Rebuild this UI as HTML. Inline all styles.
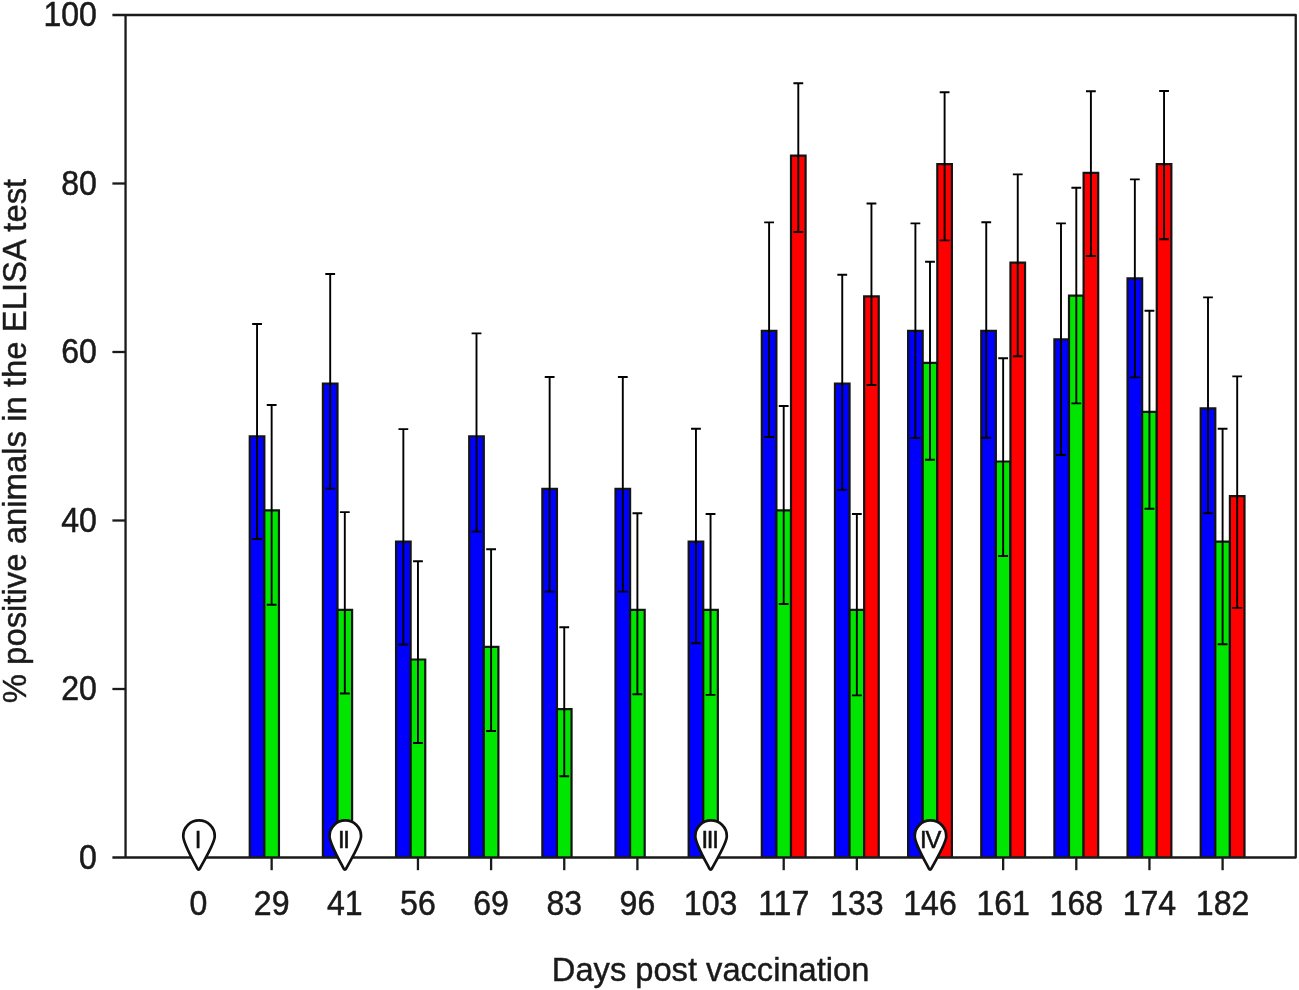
<!DOCTYPE html>
<html><head><meta charset="utf-8"><title>ELISA chart</title>
<style>
html,body{margin:0;padding:0;background:#fff;}
svg{display:block;}
text{font-family:"Liberation Sans",Arial,Helvetica,sans-serif;fill:#1a1a1a;}
.ax{stroke:#1a1a1a;stroke-width:2.3;fill:none;stroke-linecap:butt;}
.bar{stroke:#141414;stroke-width:2.2;}
.err{stroke:#000;stroke-width:1.9;fill:none;}
.pin{stroke:#111;stroke-width:2.7;fill:#fff;stroke-linejoin:round;}
.tl{font-size:34.2px;stroke:#1a1a1a;stroke-width:0.5px;}
.tt{font-size:34.6px;stroke:#1a1a1a;stroke-width:0.45px;}
.rn{font-size:23.8px;letter-spacing:-1.2px;fill:#111;stroke:#111;stroke-width:0.55px;}
</style></head><body>
<svg width="1299" height="990" viewBox="0 0 1299 990">
<rect x="0" y="0" width="1299" height="990" fill="#fff"/>
<path class="bar" d="M249.75 857.5V436.25h14.6V857.5" fill="#0000ff"/>
<path class="bar" d="M264.35 857.5V510.39h14.6V857.5" fill="#00e600"/>
<path class="err" d="M257.05 324.00V539.00M252.15 324.00h9.8M252.15 539.00h9.8"/>
<path class="err" d="M271.65 405.00V604.80M266.75 405.00h9.8M266.75 604.80h9.8"/>
<path class="bar" d="M322.90 857.5V383.59h14.6V857.5" fill="#0000ff"/>
<path class="bar" d="M337.50 857.5V609.80h14.6V857.5" fill="#00e600"/>
<path class="err" d="M330.20 274.00V488.60M325.30 274.00h9.8M325.30 488.60h9.8"/>
<path class="err" d="M344.80 512.10V693.50M339.90 512.10h9.8M339.90 693.50h9.8"/>
<path class="bar" d="M396.05 857.5V541.56h14.6V857.5" fill="#0000ff"/>
<path class="bar" d="M410.65 857.5V659.51h14.6V857.5" fill="#00e600"/>
<path class="err" d="M403.35 429.10V644.50M398.45 429.10h9.8M398.45 644.50h9.8"/>
<path class="err" d="M417.95 561.30V743.00M413.05 561.30h9.8M413.05 743.00h9.8"/>
<path class="bar" d="M469.20 857.5V436.25h14.6V857.5" fill="#0000ff"/>
<path class="bar" d="M483.80 857.5V646.88h14.6V857.5" fill="#00e600"/>
<path class="err" d="M476.50 333.40V531.60M471.60 333.40h9.8M471.60 531.60h9.8"/>
<path class="err" d="M491.10 549.20V731.00M486.20 549.20h9.8M486.20 731.00h9.8"/>
<path class="bar" d="M542.35 857.5V488.91h14.6V857.5" fill="#0000ff"/>
<path class="bar" d="M556.95 857.5V709.22h14.6V857.5" fill="#00e600"/>
<path class="err" d="M549.65 377.00V591.60M544.75 377.00h9.8M544.75 591.60h9.8"/>
<path class="err" d="M564.25 627.20V776.20M559.35 627.20h9.8M559.35 776.20h9.8"/>
<path class="bar" d="M615.50 857.5V488.91h14.6V857.5" fill="#0000ff"/>
<path class="bar" d="M630.10 857.5V609.80h14.6V857.5" fill="#00e600"/>
<path class="err" d="M622.80 377.00V591.60M617.90 377.00h9.8M617.90 591.60h9.8"/>
<path class="err" d="M637.40 513.30V694.20M632.50 513.30h9.8M632.50 694.20h9.8"/>
<path class="bar" d="M688.65 857.5V541.56h14.6V857.5" fill="#0000ff"/>
<path class="bar" d="M703.25 857.5V609.80h14.6V857.5" fill="#00e600"/>
<path class="err" d="M695.95 428.70V643.20M691.05 428.70h9.8M691.05 643.20h9.8"/>
<path class="err" d="M710.55 514.00V694.90M705.65 514.00h9.8M705.65 694.90h9.8"/>
<path class="bar" d="M761.80 857.5V330.94h14.6V857.5" fill="#0000ff"/>
<path class="bar" d="M776.40 857.5V510.39h14.6V857.5" fill="#00e600"/>
<path class="bar" d="M791.00 857.5V155.70h14.6V857.5" fill="#ff0000"/>
<path class="err" d="M769.10 222.40V437.00M764.20 222.40h9.8M764.20 437.00h9.8"/>
<path class="err" d="M783.70 406.00V604.00M778.80 406.00h9.8M778.80 604.00h9.8"/>
<path class="err" d="M798.30 83.20V232.00M793.40 83.20h9.8M793.40 232.00h9.8"/>
<path class="bar" d="M834.95 857.5V383.59h14.6V857.5" fill="#0000ff"/>
<path class="bar" d="M849.55 857.5V609.80h14.6V857.5" fill="#00e600"/>
<path class="bar" d="M864.15 857.5V296.39h14.6V857.5" fill="#ff0000"/>
<path class="err" d="M842.25 274.70V489.90M837.35 274.70h9.8M837.35 489.90h9.8"/>
<path class="err" d="M856.85 514.00V695.40M851.95 514.00h9.8M851.95 695.40h9.8"/>
<path class="err" d="M871.45 203.50V385.00M866.55 203.50h9.8M866.55 385.00h9.8"/>
<path class="bar" d="M908.10 857.5V330.94h14.6V857.5" fill="#0000ff"/>
<path class="bar" d="M922.70 857.5V362.95h14.6V857.5" fill="#00e600"/>
<path class="bar" d="M937.30 857.5V164.12h14.6V857.5" fill="#ff0000"/>
<path class="err" d="M915.40 223.40V438.00M910.50 223.40h9.8M910.50 438.00h9.8"/>
<path class="err" d="M930.00 261.80V459.80M925.10 261.80h9.8M925.10 459.80h9.8"/>
<path class="err" d="M944.60 92.20V240.40M939.70 92.20h9.8M939.70 240.40h9.8"/>
<path class="bar" d="M981.25 857.5V330.94h14.6V857.5" fill="#0000ff"/>
<path class="bar" d="M995.85 857.5V461.52h14.6V857.5" fill="#00e600"/>
<path class="bar" d="M1010.45 857.5V262.70h14.6V857.5" fill="#ff0000"/>
<path class="err" d="M986.25 222.20V437.80M981.35 222.20h9.8M981.35 437.80h9.8"/>
<path class="err" d="M1003.15 358.20V556.00M998.25 358.20h9.8M998.25 556.00h9.8"/>
<path class="err" d="M1017.75 174.40V356.20M1012.85 174.40h9.8M1012.85 356.20h9.8"/>
<path class="bar" d="M1054.40 857.5V339.36h14.6V857.5" fill="#0000ff"/>
<path class="bar" d="M1069.00 857.5V295.55h14.6V857.5" fill="#00e600"/>
<path class="bar" d="M1083.60 857.5V172.97h14.6V857.5" fill="#ff0000"/>
<path class="err" d="M1061.00 223.40V455.00M1056.10 223.40h9.8M1056.10 455.00h9.8"/>
<path class="err" d="M1076.30 187.70V403.40M1071.40 187.70h9.8M1071.40 403.40h9.8"/>
<path class="err" d="M1090.90 91.20V256.00M1086.00 91.20h9.8M1086.00 256.00h9.8"/>
<path class="bar" d="M1127.55 857.5V278.28h14.6V857.5" fill="#0000ff"/>
<path class="bar" d="M1142.15 857.5V411.82h14.6V857.5" fill="#00e600"/>
<path class="bar" d="M1156.75 857.5V164.12h14.6V857.5" fill="#ff0000"/>
<path class="err" d="M1134.85 179.40V377.40M1129.95 179.40h9.8M1129.95 377.40h9.8"/>
<path class="err" d="M1149.45 310.80V508.80M1144.55 310.80h9.8M1144.55 508.80h9.8"/>
<path class="err" d="M1164.05 91.00V239.30M1159.15 91.00h9.8M1159.15 239.30h9.8"/>
<path class="bar" d="M1200.70 857.5V408.45h14.6V857.5" fill="#0000ff"/>
<path class="bar" d="M1215.30 857.5V541.56h14.6V857.5" fill="#00e600"/>
<path class="bar" d="M1229.90 857.5V496.07h14.6V857.5" fill="#ff0000"/>
<path class="err" d="M1208.00 297.40V513.20M1203.10 297.40h9.8M1203.10 513.20h9.8"/>
<path class="err" d="M1222.60 428.80V644.20M1217.70 428.80h9.8M1217.70 644.20h9.8"/>
<path class="err" d="M1237.20 376.40V607.90M1232.30 376.40h9.8M1232.30 607.90h9.8"/>
<path class="ax" stroke-linejoin="round" d="M125.55 857.5V15.0M112.4 15.0H1295.75V857.5H112.4"/>
<path class="ax" d="M112.4 689.00H125.55"/>
<path class="ax" d="M112.4 520.50H125.55"/>
<path class="ax" d="M112.4 352.00H125.55"/>
<path class="ax" d="M112.4 183.50H125.55"/>
<text class="tl" transform="translate(96.9 868.90) scale(0.938 1)" text-anchor="end">0</text>
<text class="tl" transform="translate(96.9 700.40) scale(0.938 1)" text-anchor="end">20</text>
<text class="tl" transform="translate(96.9 531.90) scale(0.938 1)" text-anchor="end">40</text>
<text class="tl" transform="translate(96.9 363.40) scale(0.938 1)" text-anchor="end">60</text>
<text class="tl" transform="translate(96.9 194.90) scale(0.938 1)" text-anchor="end">80</text>
<text class="tl" transform="translate(96.9 26.40) scale(0.938 1)" text-anchor="end">100</text>
<text class="tl" transform="translate(198.50 915.4) scale(0.938 1)" text-anchor="middle">0</text>
<path class="ax" d="M271.65 857.5V870.2"/>
<text class="tl" transform="translate(271.65 915.4) scale(0.938 1)" text-anchor="middle">29</text>
<text class="tl" transform="translate(344.80 915.4) scale(0.938 1)" text-anchor="middle">41</text>
<path class="ax" d="M417.95 857.5V870.2"/>
<text class="tl" transform="translate(417.95 915.4) scale(0.938 1)" text-anchor="middle">56</text>
<path class="ax" d="M491.10 857.5V870.2"/>
<text class="tl" transform="translate(491.10 915.4) scale(0.938 1)" text-anchor="middle">69</text>
<path class="ax" d="M564.25 857.5V870.2"/>
<text class="tl" transform="translate(564.25 915.4) scale(0.938 1)" text-anchor="middle">83</text>
<path class="ax" d="M637.40 857.5V870.2"/>
<text class="tl" transform="translate(637.40 915.4) scale(0.938 1)" text-anchor="middle">96</text>
<text class="tl" transform="translate(710.55 915.4) scale(0.938 1)" text-anchor="middle">103</text>
<path class="ax" d="M783.70 857.5V870.2"/>
<text class="tl" transform="translate(783.70 915.4) scale(0.938 1)" text-anchor="middle">117</text>
<path class="ax" d="M856.85 857.5V870.2"/>
<text class="tl" transform="translate(856.85 915.4) scale(0.938 1)" text-anchor="middle">133</text>
<text class="tl" transform="translate(930.00 915.4) scale(0.938 1)" text-anchor="middle">146</text>
<path class="ax" d="M1003.15 857.5V870.2"/>
<text class="tl" transform="translate(1003.15 915.4) scale(0.938 1)" text-anchor="middle">161</text>
<path class="ax" d="M1076.30 857.5V870.2"/>
<text class="tl" transform="translate(1076.30 915.4) scale(0.938 1)" text-anchor="middle">168</text>
<path class="ax" d="M1149.45 857.5V870.2"/>
<text class="tl" transform="translate(1149.45 915.4) scale(0.938 1)" text-anchor="middle">174</text>
<path class="ax" d="M1222.60 857.5V870.2"/>
<text class="tl" transform="translate(1222.60 915.4) scale(0.938 1)" text-anchor="middle">182</text>
<path class="pin" d="M183.25 836.2C183.25 842.95 191.65 857.8 197.25 868.3Q198.60 870.9 199.95 868.3C205.55 857.8 214.75 842.95 214.75 836.2A15.75 15.75 0 0 0 183.25 836.2Z"/>
<text class="rn" x="197.40" y="847.7" text-anchor="middle">I</text>
<path class="pin" d="M329.55 836.2C329.55 842.95 337.95 857.8 343.55 868.3Q344.90 870.9 346.25 868.3C351.85 857.8 361.05 842.95 361.05 836.2A15.75 15.75 0 0 0 329.55 836.2Z"/>
<text class="rn" x="343.30" y="847.7" text-anchor="middle">II</text>
<path class="pin" d="M695.30 836.2C695.30 842.95 703.70 857.8 709.30 868.3Q710.65 870.9 712.00 868.3C717.60 857.8 726.80 842.95 726.80 836.2A15.75 15.75 0 0 0 695.30 836.2Z"/>
<text class="rn" x="709.55" y="847.7" text-anchor="middle">III</text>
<path class="pin" d="M914.75 836.2C914.75 842.95 923.15 857.8 928.75 868.3Q930.10 870.9 931.45 868.3C937.05 857.8 946.25 842.95 946.25 836.2A15.75 15.75 0 0 0 914.75 836.2Z"/>
<text class="rn" x="930.10" y="847.7" text-anchor="middle">IV</text>
<text class="tt" style="font-size:33.7px" transform="translate(710.6 981.0) scale(0.969 1)" text-anchor="middle">Days post vaccination</text>
<text class="tt" style="font-size:33.6px" transform="translate(26.3 441.0) rotate(-90) scale(0.979 1)" text-anchor="middle">% positive animals in the ELISA test</text>
</svg></body></html>
